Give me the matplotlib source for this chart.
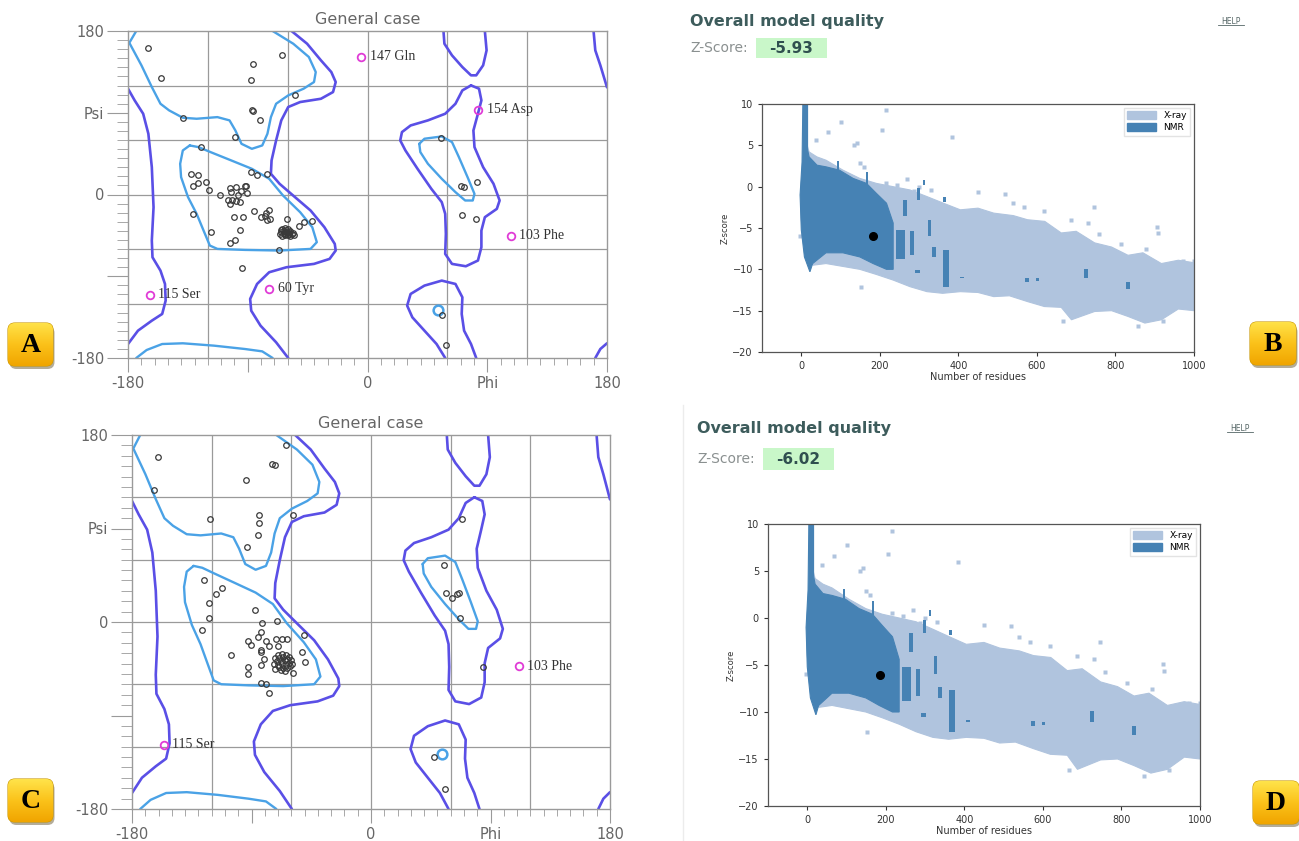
import matplotlib
matplotlib.use("Agg")
import matplotlib.pyplot as plt
from matplotlib.patches import FancyBboxPatch, Patch
from matplotlib.colors import LinearSegmentedColormap
import numpy as np

W, H = 1299, 841

# ---------------- Ramachandran reference contours (phi, psi) ----------------
P1_phi = [-57.1, -45.4, -35.0, -27.2, -23.9, -25.9, -35.0, -50.6, -59.6, -64.8, -68.7, -72.1, -72.6, -66.1,
          -54.5, -42.8, -32.4, -24.6, -23.9, -28.5, -40.2, -60.9, -73.9, -83.0, -88.2, -87.4, -80.4, -68.7, -59.6]
P1_psi = [180, 166, 147.7, 134.8, 123.8, 112.8, 105.4, 101.8, 96.3, 81.6, 59.5, 37.5, 22.8, 11.8,
          -2.9, -17.6, -36, -54.4, -61.7, -70.9, -76.4, -80.1, -85.6, -98.5, -115, -127.9, -144.4, -162.7, -180]
P2_phi = [-180, -175, -168.6, -164.7, -162.1, -160.8, -162.1, -161.6, -155.6, -152.2, -151.7, -154.3, -162.1, -172.5, -180]
P2_psi = [116.5, 103.6, 88.9, 66.9, 30.1, -14, -50.7, -69.1, -83.8, -98.5, -116.8, -131.5, -138.9, -149.9, -164.6]
P3_phi = [57.1, 57.8, 63.5, 71.3, 77.8, 81.7, 86.9, 89.5, 88.2]
P3_psi = [180, 166, 153.2, 140.3, 131.2, 131.2, 142.2, 158.7, 180]
P4_phi = [58.4, 51.9, 42.8, 33.7, 29.8, 32.4, 42.8, 55.8, 66.1, 71.3, 70.8, 72.6, 77.8, 81.7]
P4_psi = [-180, -164.6, -149.9, -135.2, -122.3, -109.5, -100.3, -94.8, -98.5, -113.2, -131.5, -149.9, -164.6, -180]
P5_phi = [77.8, 83.8, 85.6, 83, 79.6, 80.4, 86.9, 94.7, 99.3, 97.2, 88.2, 85.6, 85.6, 83, 73.9, 63.5, 58.4,
          58.9, 58.4, 55.8, 48, 37.6, 28.5, 24.6, 25.9, 32.4, 45.4, 58.4, 66.1, 71.3, 77.8]
P5_psi = [120.1, 116.5, 103.6, 88.9, 70.5, 52.2, 30.1, 11.8, -6.6, -15.8, -25, -39.7, -58, -72.7, -79, -76.4, -65.4,
          -43.3, -21.3, -8.4, 6.2, 28.3, 48.5, 59.5, 68.7, 76, 81.6, 88.9, 99.9, 114.6, 120.1]
P6_phi = [169.9, 171.2, 175, 180]
P6_psi = [180, 158.7, 142.2, 118]
P7_phi = [171.2, 175, 180]
P7_psi = [-180, -170.1, -163.8]

L1_phi = [-71.3, -55.8, -44.1, -38.9, -40.2, -48, -59.6, -68.7, -72.6, -75.2, -79.1, -86.9, -94.7, -99.3, -103.7,
          -112.8, -128.4, -138.8, -149.1, -155.6, -162.1, -169.9, -179.0, -173.8]
L1_psi = [180, 166, 151.4, 134.8, 123.8, 116.5, 109.1, 99.9, 85.2, 66.9, 54, 50.3, 55.8, 70.5, 81.6,
          85.2, 83.4, 84.5, 92.6, 99.9, 118.3, 142.2, 167.0, 180]
L2_phi = [-133.6, -138.8, -140.8, -140.1, -134.9, -128.4, -123.2, -118.5, -112.8, -92.1, -66.1, -42.8, -38.1,
          -41.5, -50.6, -63.5, -73.9, -86.9, -102.4, -118, -127.1, -133.6]
L2_psi = [54, 48.5, 33.8, 19.1, -2.9, -21.3, -39.7, -56.2, -59.9, -61, -61.7, -59.9, -52.5,
          -36, -19.5, -1.1, 17.3, 28.3, 37.5, 46.7, 52.2, 54]
L3_phi = [38.9, 42.8, 55.8, 63.5, 68.7, 75.2, 80.4, 79.1, 73.4, 66.1, 55.8, 45.4, 39.7, 38.9]
L3_psi = [55.8, 61.4, 63.9, 57.7, 41.1, 19.1, 0.7, -6.6, -6.6, 2.6, 17.3, 33.8, 46.7, 55.8]
L4_phi = [-173.8, -166, -154.3, -138.8, -115.4, -92.1, -79.1, -71.3]
L4_psi = [-180, -171.2, -164.6, -163.8, -166.4, -170.1, -172.7, -180]
L5_phi = [53.2]
L5_psi = [-127.2]

# ---------------- Panel A residues ----------------
A_phi = [-165.2, -155.3, -64.3, -86.4, -87.7, -54.5, -138.7, -86.1, -86.9, -80.7, -99.3, -125.5, 55.5,
         -132.8, -127.1, -131.2, -127.3, -121.4, -119.3, -110.5, -103.5, -98.5, -92.1, -91.0, -102.4, -95.2,
         -90.2, -97.2, -105.0, -102.2, -99.1, -96.0, -103.7, -87.7, -83.0, -75.5, -131.5, -100.4, -93.6,
         -85.6, -80.1, -76.5, -73.9, -77.0, -75.2, -73.1, -60.7, -117.7, -95.7, -103.0, -99.8, -51.3, -47.7,
         -41.5, -66.6, -94.4, 70.0, 72.6, 82.5, 70.8, 81.2, 55.8, 59.1,
         -64, -62, -60, -58, -65, -63, -61, -59, -66, -62, -60, -57, -64, -61, -63, -59, -56, -65, -62, -60, -58, -55]
A_psi = [161.3, 128.2, 153.2, 143.3, 126.4, 109.1, 83.8, 91.8, 92.6, 81.6, 63.6, 52.5, 62.1,
         22.4, 22.0, 9.2, 12.5, 14.3, 5.5, 0.0, 7.3, 8.1, 9.2, 9.9, 2.6, 4.4,
         1.5, 0.0, -6.6, -5.9, -7.3, -8.4, -11.0, 25.0, 21.7, 22.8, -21.3, -25.3, -25.3,
         -18.4, -25.0, -20.2, -17.6, -24.2, -27.6, -26.8, -27.2, -40.8, -38.9, -52.9, -50.0, -34.2, -29.8,
         -29.0, -61.0, -80.8, 9.2, 8.1, 13.6, -23.1, -26.5, -132.6, -165.7,
         -38, -37, -38, -40, -41, -42, -41, -43, -44, -45, -45, -44, -46, -39, -40, -41, -42, -39, -43, -42, -46, -45]
A_lab_phi = [-4.7, 83.2, 107.6, -163.4, -73.9]
A_lab_psi = [151.4, 93.3, -45.2, -110.2, -104.0]
A_lab_txt = ["147 Gln", "154 Asp", "103 Phe", "115 Ser", "60 Tyr"]

# ---------------- Panel C residues ----------------
C_phi = [-160.5, -163.1, -94.1, -74.2, -72.1, -64.1, -120.9, -84.3, -84.0, -85.1, -93.1, -58.9, -126.0,
         -112.0, -117.0, -122.2, -122.2, -127.3, -87.1, -81.9, -71.0, -82.7, -85.1, -92.6, -90.5, -78.8,
         -77.0, -71.6, -67.2, -63.3, -69.8, -83.2, -82.7, -105.8, -50.8, -52.1, -50.0, -92.3, -92.3, -82.7,
         -80.4, -59.4, -58.9, -83.2, -79.1, -77.0, 54.8, 56.8, 60.7, 65.1, 66.4, 66.9, 68.5, 84.6, 47.5, 55.5,
         -70, -67, -64, -62, -72, -69, -66, -63, -60, -71, -68, -65, -62, -73, -70, -67, -64, -61, -69, -66, -63, -72, -68, -65]
C_psi = [158.8, 126.7, 137.0, 151.7, 150.8, 170.7, 98.8, 102.9, 94.9, 84.0, 72.1, 102.9, 40.3,
         32.3, 26.5, 18.2, 3.4, -7.5, 11.4, -0.8, 0.5, -9.5, -14.3, -18.4, -21.7, -18.4,
         -22.9, -16.8, -16.8, -16.2, -23.3, -27.1, -28.7, -32.2, -12.7, -28.4, -38.4, -43.2, -50.2, -41.2,
         -35.8, -40.3, -48.9, -58.9, -59.5, -68.2, 55.1, 27.8, 23.3, 26.5, 27.8, 4.0, 99.1, -43.2, -129.9, -160.7,
         -32, -31, -32, -34, -35, -35, -34, -36, -37, -38, -38, -37, -39, -40, -41, -40, -41, -42, -43, -44, -44, -45, -46, -47]
C_lab_phi = [111.3, -155.9]
C_lab_psi = [-42.5, -118.0]
C_lab_txt = ["103 Phe", "115 Ser"]

# ---------------- Z-score reference distribution ----------------
xray_x = [-2, 5, 15, 20, 40, 63, 106, 149, 191, 234, 277, 320, 362, 405, 450, 490, 540, 576, 620, 662, 700, 747,
          790, 832, 870, 917, 960, 1000,
          1000, 960, 917, 875, 832, 790, 747, 688, 662, 619, 576, 530, 490, 450, 405, 360, 320, 277, 234, 190, 149,
          100, 63, 30, 10, 0]
xray_y = [-1, 3.5, 5.0, 4.2, 3.6, 3.2, 2.0, 1.0, 0.4, 0.0, -0.4, -1.2, -2.0, -2.8, -2.6, -3.2, -3.5, -4.0, -4.2,
          -5.6, -5.4, -6.8, -7.3, -8.3, -8.0, -9.3, -8.9, -9.2,
          -15.0, -14.8, -16.1, -16.5, -15.7, -15.0, -15.1, -16.1, -14.6, -14.5, -13.9, -13.2, -13.3, -12.8, -12.7,
          -12.9, -12.7, -12.1, -11.3, -10.6, -10.0, -9.6, -9.3, -9.5, -8.0, -4.0]
xray_out_x = [217, 100, 69, 206, 384, 143, 135, 37, 159, 150, 215, 270, 450, 518, 566, 619, 746, 905, 908, 1000,
              153, 921, -3, 540, 688, 730, 757, 815, 878, 973, 300, 330, 243, 286, 667, 857]
xray_out_y = [9.3, 7.8, 6.6, 6.8, 6.0, 5.3, 5.0, 5.6, 2.4, 2.9, 0.5, 0.9, -0.7, -0.9, -2.5, -3.0, -2.5, -4.9, -5.6, -9.0,
              -12.1, -16.2, -6.0, -2.0, -4.0, -4.4, -5.7, -6.9, -7.5, -9.0, 0.0, -0.4, 0.2, -0.5, -16.2, -16.8]
nmr_x = [-3, 2, 4, 16, 16, 20, 40, 63, 97, 132, 166, 191, 217, 234, 234, 217, 183, 149, 106, 63, 29, 22, 8, 0]
nmr_y = [-1, 3, 10, 10, 4.5, 3.6, 2.6, 2.4, 2.0, 1.0, 0.4, -0.8, -2.0, -4.4, -10.0, -10.0, -9.3, -8.5, -8.0, -8.0, -9.3, -10.3, -8.5, -5.2]
strip_x = [94, 167, 213, 264, 298, 312, 327, 253, 282, 339, 369, 296, 409, 575, 602, 725, 832, 365]
strip_lo = [1.7, 0.0, -2.8, -3.6, -1.6, 0.2, -6.0, -8.8, -8.3, -8.5, -12.1, -10.5, -11.1, -11.5, -11.4, -11.1, -12.4, -1.8]
strip_hi = [3.1, 1.8, -1.8, -1.6, -0.2, 0.8, -4.0, -5.2, -5.4, -7.3, -7.7, -10.1, -10.9, -11.0, -11.1, -9.9, -11.5, -1.3]
strip_w = [6, 6, 7, 8, 8, 6, 7, 22, 10, 10, 16, 12, 9, 11, 8, 9, 9, 8]
model_residues = [183, 185]
model_zscore = [-5.93, -6.02]

PURPLE = "#5a4fe6"
LBLUE = "#4aa2e6"
MAGENTA = "#e03cd6"

fig = plt.figure(figsize=(W / 100, H / 100), dpi=100)
ov = fig.add_axes([0, 0, 1, 1])
ov.set_zorder(-5)
ov.axis("off")


def frect(l, t, r, b):
    return [l / W, 1 - b / H, (r - l) / W, (b - t) / H]


def rama(rect, pphi, ppsi, lphi, lpsi, ltxt):
    ax = fig.add_axes(rect)
    ax.set_xlim(-180, 180)
    ax.set_ylim(-180, 180)
    for v in [-120, -60, 0, 60, 120]:
        ax.axvline(v, color="#9a9a9a", lw=0.9, zorder=1)
        ax.axhline(v, color="#9a9a9a", lw=0.9, zorder=1)
    for s in ax.spines.values():
        s.set_color("#9a9a9a")
        s.set_linewidth(1.0)
    for xs, ys in [(P1_phi, P1_psi), (P2_phi, P2_psi), (P3_phi, P3_psi), (P4_phi, P4_psi),
                   (P5_phi, P5_psi), (P6_phi, P6_psi), (P7_phi, P7_psi)]:
        ax.plot(xs, ys, color=PURPLE, lw=1.9, zorder=2, solid_capstyle="round")
    for xs, ys in [(L1_phi, L1_psi), (L2_phi, L2_psi), (L3_phi, L3_psi), (L4_phi, L4_psi)]:
        ax.plot(xs, ys, color=LBLUE, lw=1.7, zorder=2, solid_capstyle="round")
    ax.plot(L5_phi, L5_psi, "o", ms=7, mfc="none", mec=LBLUE, mew=1.8, zorder=2)
    ax.plot(pphi, ppsi, "o", ms=4, mfc="none", mec="#3a3a3a", mew=0.9, zorder=3)
    ax.plot(lphi, lpsi, "o", ms=5.5, mfc="none", mec=MAGENTA, mew=1.3, zorder=3)
    for x, y, t in zip(lphi, lpsi, ltxt):
        ax.annotate(t, (x, y), xytext=(6, 0), textcoords="offset points", va="center", ha="left",
                    fontsize=10, family="Liberation Serif", color="#333333", zorder=4)
    ax.set_xticks([-180, -90, 0, 90, 180])
    ax.set_xticklabels(["-180", "", "0", "Phi", "180"])
    ax.set_yticks([-180, -90, 0, 90, 180])
    ax.set_yticklabels(["-180", "", "0", "Psi", "180"])
    ax.set_xticks(np.arange(-180, 181, 10), minor=True)
    ax.set_yticks(np.arange(-180, 181, 10), minor=True)
    ax.tick_params(axis="x", which="major", length=10, color="#9a9a9a", labelsize=10.5, labelcolor="#666666", pad=3)
    ax.tick_params(axis="x", which="minor", length=5, color="#9a9a9a")
    ax.tick_params(axis="y", which="major", length=15, color="#9a9a9a", labelsize=10.5, labelcolor="#666666", pad=2)
    ax.tick_params(axis="y", which="minor", length=8, color="#9a9a9a")
    ax.set_title("General case", fontsize=11.5, color="#666666", pad=5)
    return ax


def zplot(rect, k):
    ax = fig.add_axes(rect)
    ax.fill(xray_x, xray_y, color="#b0c4de", lw=0.8, ec="#b0c4de", zorder=1)
    ax.plot(xray_out_x, xray_out_y, "s", ms=2.2, color="#b0c4de", mec="none", zorder=1)
    ax.fill(nmr_x, nmr_y, color="#4682b4", lw=0.8, ec="#4682b4", zorder=2)
    ax.bar(strip_x, np.array(strip_hi) - np.array(strip_lo), bottom=strip_lo, width=strip_w,
           color="#4682b4", lw=0, zorder=2)
    ax.plot([model_residues[k]], [model_zscore[k]], "o", ms=5.5, color="black", zorder=3)
    ax.set_xlim(-100, 1000)
    ax.set_ylim(-20, 10)
    ax.set_xticks([0, 200, 400, 600, 800, 1000])
    ax.set_yticks([10, 5, 0, -5, -10, -15, -20])
    ax.tick_params(labelsize=7, length=3, width=0.8, colors="#333333")
    for s in ax.spines.values():
        s.set_color("#555555")
        s.set_linewidth(0.9)
    ax.set_xlabel("Number of residues", fontsize=7, color="#333333", labelpad=1)
    ax.set_ylabel("Z-score", fontsize=6, color="#333333", labelpad=2)
    ax.legend(handles=[Patch(color="#b0c4de", label="X-ray"), Patch(color="#4682b4", label="NMR")],
              loc="upper right", fontsize=6.5, handlelength=3.2, handleheight=0.9, frameon=True,
              edgecolor="#dddddd", fancybox=False, borderaxespad=0.4, labelspacing=0.3)
    return ax


rama(frect(128, 31, 607, 358), A_phi, A_psi, A_lab_phi, A_lab_psi, A_lab_txt)
rama(frect(132, 435, 610, 809), C_phi, C_psi, C_lab_phi, C_lab_psi, C_lab_txt)
zplot(frect(762, 104, 1194, 352), 0)
zplot(frect(768, 524, 1200, 806), 1)


def header(x0, ytitle, yscore, help_x, box, k):
    ov.text(x0, ytitle, "Overall model quality", fontsize=11.5, fontweight="bold", color="#3d5c5c",
            ha="left", va="center")
    ov.text(help_x, ytitle, "HELP", fontsize=5.5, color="#556666", ha="center", va="center")
    ov.plot([help_x - 13, help_x + 13], [ytitle + 4, ytitle + 4], color="#556666", lw=0.6)
    ov.text(x0, yscore, "Z-Score:", fontsize=10, color="#8a9090", ha="left", va="center")
    bl, bt, br, bb = box
    ov.add_patch(plt.Rectangle((bl, bt), br - bl, bb - bt, fc="#c9f7c9", ec="none"))
    ov.text((bl + br) / 2, yscore, "%.2f" % model_zscore[k], fontsize=11, fontweight="bold",
            color="#2f4f4f", ha="center", va="center")


header(690, 21, 48, 1231, (756, 38, 827, 58), 0)
header(697, 428, 459, 1240, (763, 448, 834, 470), 1)

ov.plot([683, 683], [405, 841], color="#ececec", lw=1)

grad = np.linspace(0, 1, 64).reshape(-1, 1)
gcmap = LinearSegmentedColormap.from_list("g", ["#ffe34a", "#fbc21a", "#f0a500"])


def label_box(x0, y0, w, h, letter):
    sh = FancyBboxPatch((x0 + 1.5, y0 + 3), w, h, boxstyle="round,pad=0,rounding_size=7",
                        fc="#5a4a20", ec="none", alpha=0.45)
    ov.add_patch(sh)
    box = FancyBboxPatch((x0, y0), w, h, boxstyle="round,pad=0,rounding_size=7",
                         fc="#fbc21a", ec="#c99600", lw=0.8)
    ov.add_patch(box)
    im = ov.imshow(grad, extent=[x0, x0 + w, y0 + h, y0], cmap=gcmap, aspect="auto", zorder=2)
    im.set_clip_path(box)
    ov.text(x0 + w / 2, y0 + h / 2 + 1, letter, fontsize=20, fontweight="bold", family="Liberation Serif",
            ha="center", va="center", color="black", zorder=3)


label_box(8, 323, 45, 43, "A")
label_box(1250, 322, 46, 43, "B")
label_box(8, 779, 45, 43, "C")
label_box(1253, 781, 46, 43, "D")

ov.set_xlim(0, W)
ov.set_ylim(H, 0)

fig.savefig("out.png", dpi=100)
